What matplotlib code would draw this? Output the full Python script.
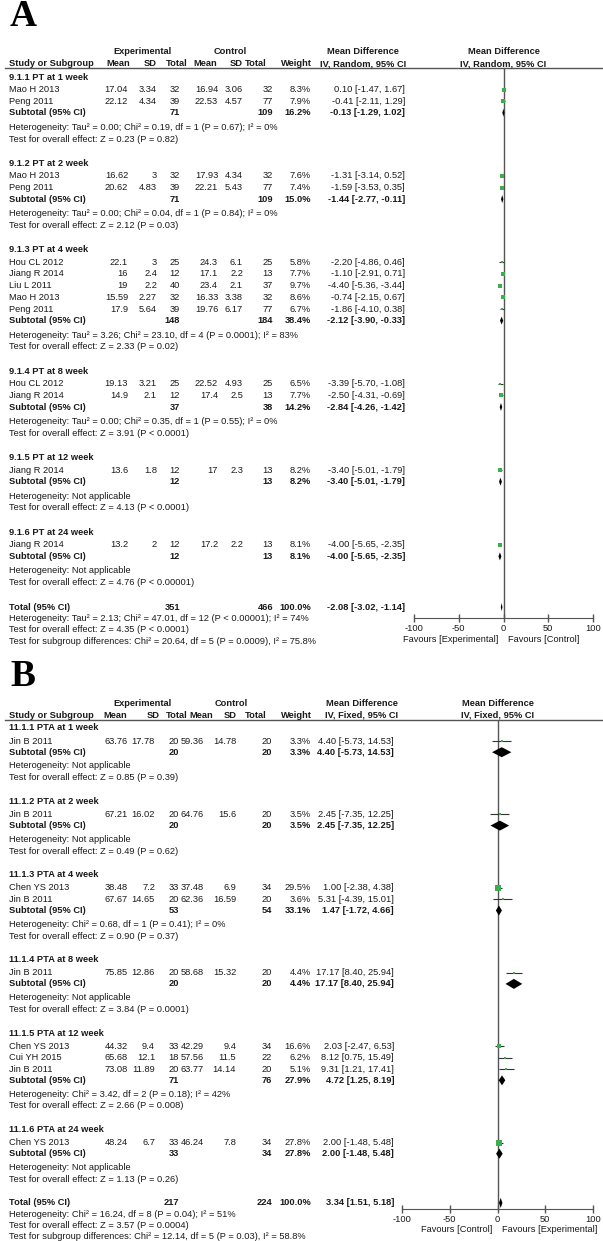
import matplotlib
matplotlib.use('Agg')
import matplotlib.pyplot as plt

# ---------------- panel A data (PT, random effects) ----------------
a_groups = ['9.1.1 PT at 1 week', '9.1.2 PT at 2 week', '9.1.3 PT at 4 week',
            '9.1.4 PT at 8 week', '9.1.5 PT at 12 week', '9.1.6 PT at 24 week']
a_grp = [0, 0, 1, 1, 2, 2, 2, 2, 2, 3, 3, 4, 5]
a_study = ['Mao H 2013', 'Peng 2011', 'Mao H 2013', 'Peng 2011',
           'Hou CL 2012', 'Jiang R 2014', 'Liu L 2011', 'Mao H 2013', 'Peng 2011',
           'Hou CL 2012', 'Jiang R 2014', 'Jiang R 2014', 'Jiang R 2014']
a_mean_e = [17.04, 22.12, 16.62, 20.62, 22.1, 16, 19, 15.59, 17.9, 19.13, 14.9, 13.6, 13.2]
a_sd_e = [3.34, 4.34, 3, 4.83, 3, 2.4, 2.2, 2.27, 5.64, 3.21, 2.1, 1.8, 2]
a_n_e = [32, 39, 32, 39, 25, 12, 40, 32, 39, 25, 12, 12, 12]
a_mean_c = [16.94, 22.53, 17.93, 22.21, 24.3, 17.1, 23.4, 16.33, 19.76, 22.52, 17.4, 17, 17.2]
a_sd_c = [3.06, 4.57, 4.34, 5.43, 6.1, 2.2, 2.1, 3.38, 6.17, 4.93, 2.5, 2.3, 2.2]
a_n_c = [32, 77, 32, 77, 25, 13, 37, 32, 77, 25, 13, 13, 13]
a_weight = [8.3, 7.9, 7.6, 7.4, 5.8, 7.7, 9.7, 8.6, 6.7, 6.5, 7.7, 8.2, 8.1]
a_md = [0.10, -0.41, -1.31, -1.59, -2.20, -1.10, -4.40, -0.74, -1.86, -3.39, -2.50, -3.40, -4.00]
a_lo = [-1.47, -2.11, -3.14, -3.53, -4.86, -2.91, -5.36, -2.15, -4.10, -5.70, -4.31, -5.01, -5.65]
a_hi = [1.67, 1.29, 0.52, 0.35, 0.46, 0.71, -3.44, 0.67, 0.38, -1.08, -0.69, -1.79, -2.35]
a_sub_n_e = [71, 71, 148, 37, 12, 12]
a_sub_n_c = [109, 109, 184, 38, 13, 13]
a_sub_w = [16.2, 15.0, 38.4, 14.2, 8.2, 8.1]
a_sub_md = [-0.13, -1.44, -2.12, -2.84, -3.40, -4.00]
a_sub_lo = [-1.29, -2.77, -3.90, -4.26, -5.01, -5.65]
a_sub_hi = [1.02, -0.11, -0.33, -1.42, -1.79, -2.35]
a_het = ['Heterogeneity: Tau² = 0.00; Chi² = 0.19, df = 1 (P = 0.67); I² = 0%',
         'Heterogeneity: Tau² = 0.00; Chi² = 0.04, df = 1 (P = 0.84); I² = 0%',
         'Heterogeneity: Tau² = 3.26; Chi² = 23.10, df = 4 (P = 0.0001); I² = 83%',
         'Heterogeneity: Tau² = 0.00; Chi² = 0.35, df = 1 (P = 0.55); I² = 0%',
         'Heterogeneity: Not applicable',
         'Heterogeneity: Not applicable']
a_test = ['Test for overall effect: Z = 0.23 (P = 0.82)',
          'Test for overall effect: Z = 2.12 (P = 0.03)',
          'Test for overall effect: Z = 2.33 (P = 0.02)',
          'Test for overall effect: Z = 3.91 (P < 0.0001)',
          'Test for overall effect: Z = 4.13 (P < 0.0001)',
          'Test for overall effect: Z = 4.76 (P < 0.00001)']
a_total = [351, 466, 100.0, -2.08, -3.02, -1.14]
a_notes = ['Heterogeneity: Tau² = 2.13; Chi² = 47.01, df = 12 (P < 0.00001); I² = 74%',
           'Test for overall effect: Z = 4.35 (P < 0.0001)',
           'Test for subgroup differences: Chi² = 20.64, df = 5 (P = 0.0009), I² = 75.8%']
a_favours = ['Favours [Experimental]', 'Favours [Control]']

# ---------------- panel B data (PTA, fixed effect) ----------------
b_groups = ['11.1.1 PTA at 1 week', '11.1.2 PTA at 2 week', '11.1.3 PTA at 4 week',
            '11.1.4 PTA at 8 week', '11.1.5 PTA at 12 week', '11.1.6 PTA at 24 week']
b_grp = [0, 1, 2, 2, 3, 4, 4, 4, 5]
b_study = ['Jin B 2011', 'Jin B 2011', 'Chen YS 2013', 'Jin B 2011', 'Jin B 2011',
           'Chen YS 2013', 'Cui YH 2015', 'Jin B 2011', 'Chen YS 2013']
b_mean_e = [63.76, 67.21, 38.48, 67.67, 75.85, 44.32, 65.68, 73.08, 48.24]
b_sd_e = [17.78, 16.02, 7.2, 14.65, 12.86, 9.4, 12.1, 11.89, 6.7]
b_n_e = [20, 20, 33, 20, 20, 33, 18, 20, 33]
b_mean_c = [59.36, 64.76, 37.48, 62.36, 58.68, 42.29, 57.56, 63.77, 46.24]
b_sd_c = [14.78, 15.6, 6.9, 16.59, 15.32, 9.4, 11.5, 14.14, 7.8]
b_n_c = [20, 20, 34, 20, 20, 34, 22, 20, 34]
b_weight = [3.3, 3.5, 29.5, 3.6, 4.4, 16.6, 6.2, 5.1, 27.8]
b_md = [4.40, 2.45, 1.00, 5.31, 17.17, 2.03, 8.12, 9.31, 2.00]
b_lo = [-5.73, -7.35, -2.38, -4.39, 8.40, -2.47, 0.75, 1.21, -1.48]
b_hi = [14.53, 12.25, 4.38, 15.01, 25.94, 6.53, 15.49, 17.41, 5.48]
b_sub_n_e = [20, 20, 53, 20, 71, 33]
b_sub_n_c = [20, 20, 54, 20, 76, 34]
b_sub_w = [3.3, 3.5, 33.1, 4.4, 27.9, 27.8]
b_sub_md = [4.40, 2.45, 1.47, 17.17, 4.72, 2.00]
b_sub_lo = [-5.73, -7.35, -1.72, 8.40, 1.25, -1.48]
b_sub_hi = [14.53, 12.25, 4.66, 25.94, 8.19, 5.48]
b_het = ['Heterogeneity: Not applicable',
         'Heterogeneity: Not applicable',
         'Heterogeneity: Chi² = 0.68, df = 1 (P = 0.41); I² = 0%',
         'Heterogeneity: Not applicable',
         'Heterogeneity: Chi² = 3.42, df = 2 (P = 0.18); I² = 42%',
         'Heterogeneity: Not applicable']
b_test = ['Test for overall effect: Z = 0.85 (P = 0.39)',
          'Test for overall effect: Z = 0.49 (P = 0.62)',
          'Test for overall effect: Z = 0.90 (P = 0.37)',
          'Test for overall effect: Z = 3.84 (P = 0.0001)',
          'Test for overall effect: Z = 2.66 (P = 0.008)',
          'Test for overall effect: Z = 1.13 (P = 0.26)']
b_total = [217, 224, 100.0, 3.34, 1.51, 5.18]
b_notes = ['Heterogeneity: Chi² = 16.24, df = 8 (P = 0.04); I² = 51%',
           'Test for overall effect: Z = 3.57 (P = 0.0004)',
           'Test for subgroup differences: Chi² = 12.14, df = 5 (P = 0.03), I² = 58.8%']
b_favours = ['Favours [Control]', 'Favours [Experimental]']

ticks = [-100, -50, 0, 50, 100]

plt.rcParams['font.family'] = ['Liberation Sans', 'DejaVu Sans']
W, H = 603, 1241
FS = 6.7
INK = '#1a1a1a'
GRAY = '#555555'
GREEN = '#3cae50'

fig = plt.figure(figsize=(W / 100, H / 100), dpi=100)
ax = fig.add_axes([0, 0, 1, 1])
ax.set_xlim(0, W)
ax.set_ylim(H, 0)
ax.axis('off')


def t(x, y, s, ha='left', bold=False):
    ax.text(x, y, s, ha=ha, va='center', fontsize=FS, color=INK,
            fontweight='bold' if bold else 'normal')


def ci(md, lo, hi):
    return f'{md:.2f} [{lo:.2f}, {hi:.2f}]'


def diamond(fx, y, md, lo, hi, h):
    fx.fill([lo, md, hi, md], [y, y - h, y, y + h], color='black', lw=0, zorder=4)


def panel(letter, L, groups, grp, study, me, se, ne, mc, sc, nc, wt, md, lo, hi,
          sne, snc, sw, smd, slo, shi, het, test, total, notes, favours, method):
    c = L['cols']
    ax.text(10, L['letter_y'], letter, fontsize=27, fontweight='bold',
            family='Liberation Serif', va='center', ha='left', color='black')
    y1, y2 = L['head_y']
    t(L['exp_c'], y1, 'Experimental', 'center', True)
    t(L['ctl_c'], y1, 'Control', 'center', True)
    t(L['ci_c'], y1, 'Mean Difference', 'center', True)
    t(L['zero_px'], y1, 'Mean Difference', 'center', True)
    t(9, y2, 'Study or Subgroup', bold=True)
    for key, lab in [('me', 'Mean'), ('se', 'SD'), ('ne', 'Total'), ('mc', 'Mean'),
                     ('sc', 'SD'), ('nc', 'Total'), ('w', 'Weight')]:
        t(L['head_cols'][key], y2, lab, 'right', True)
    t(L['ci_c'], y2, method, 'center', True)
    t(L['zero_px'], y2, method, 'center', True)
    ax.plot([5, W], [L['line_y'], L['line_y']], color=GRAY, lw=1)

    x0, x1 = L['forest']
    top, bot = L['line_y'], L['axis_y']
    fx = fig.add_axes([x0 / W, 1 - bot / H, (x1 - x0) / W, (bot - top) / H])
    fx.patch.set_visible(False)
    fx.set_xlim(-100, 100)
    fx.set_ylim(bot, top)
    fx.axvline(0, color=GRAY, lw=1, zorder=1)
    for s in ['top', 'left', 'right']:
        fx.spines[s].set_visible(False)
    fx.spines['bottom'].set_color(GRAY)
    fx.set_yticks([])
    fx.set_xticks(ticks)
    fx.set_xticklabels([str(v) for v in ticks])
    fx.tick_params(axis='x', direction='inout', length=6, width=1, color=GRAY,
                   labelsize=FS, labelcolor=INK, pad=1)

    a, b, cc, d, e, f = L['gaps']
    dh = L['dia_h']
    y = L['start']
    for g, title in enumerate(groups):
        t(9, y, title, bold=True)
        y += a
        idx = [i for i, k in enumerate(grp) if k == g]
        for j, i in enumerate(idx):
            t(9, y, study[i])
            t(c['me'], y, f'{me[i]:g}', 'right')
            t(c['se'], y, f'{se[i]:g}', 'right')
            t(c['ne'], y, str(ne[i]), 'right')
            t(c['mc'], y, f'{mc[i]:g}', 'right')
            t(c['sc'], y, f'{sc[i]:g}', 'right')
            t(c['nc'], y, str(nc[i]), 'right')
            t(c['w'], y, f'{wt[i]:.1f}%', 'right')
            t(c['ci'], y, ci(md[i], lo[i], hi[i]), 'right')
            fx.hlines(y, lo[i], hi[i], color='#333333', lw=0.8, zorder=2)
            side = L['sq'] * wt[i] ** 0.5
            fx.scatter([md[i]], [y], marker='s', s=(side * 0.72) ** 2,
                       color=GREEN, lw=0, zorder=3)
            y += b if j < len(idx) - 1 else cc
        t(9, y, 'Subtotal (95% CI)', bold=True)
        t(c['ne'], y, str(sne[g]), 'right', True)
        t(c['nc'], y, str(snc[g]), 'right', True)
        t(c['w'], y, f'{sw[g]:.1f}%', 'right', True)
        t(c['ci'], y, ci(smd[g], slo[g], shi[g]), 'right', True)
        diamond(fx, y, smd[g], slo[g], shi[g], dh)
        y += d
        t(9, y, het[g])
        y += e
        t(9, y, test[g])
        y += f
    t(9, y, 'Total (95% CI)', bold=True)
    t(c['ne'], y, str(total[0]), 'right', True)
    t(c['nc'], y, str(total[1]), 'right', True)
    t(c['w'], y, f'{total[2]:.1f}%', 'right', True)
    t(c['ci'], y, ci(total[3], total[4], total[5]), 'right', True)
    diamond(fx, y, total[3], total[4], total[5], dh)
    y += 11.8
    for n in notes:
        t(9, y, n)
        y += 11.1
    t(L['zero_px'] - 5, L['fav_y'], favours[0], 'right')
    t(L['zero_px'] + 5, L['fav_y'], favours[1], 'left')


layout_a = dict(letter_y=17, head_y=(52, 64), line_y=68, start=77,
                cols=dict(me=128, se=157, ne=180, mc=218, sc=243, nc=273, w=311, ci=405),
                head_cols=dict(me=130, se=157, ne=188, mc=217, sc=243, nc=267, w=312),
                exp_c=143, ctl_c=230, ci_c=363, zero_px=503.5,
                forest=(414, 593), axis_y=618, fav_y=640, sq=1.15, dia_h=4,
                gaps=(12.5, 11.7, 11.5, 14.5, 11.8, 24.4))
layout_b = dict(letter_y=676, head_y=(703, 715), line_y=720, start=728,
                cols=dict(me=128, se=155, ne=179, mc=204, sc=236, nc=272, w=311, ci=394),
                head_cols=dict(me=127, se=160, ne=188, mc=213, sc=237, nc=267, w=312),
                exp_c=142, ctl_c=231, ci_c=362, zero_px=497.5,
                forest=(402, 593), axis_y=1209, fav_y=1230, sq=1.2, dia_h=5,
                gaps=(13, 11.5, 11.2, 13.8, 11.7, 23.7))

panel('A', layout_a, a_groups, a_grp, a_study, a_mean_e, a_sd_e, a_n_e, a_mean_c,
      a_sd_c, a_n_c, a_weight, a_md, a_lo, a_hi, a_sub_n_e, a_sub_n_c, a_sub_w,
      a_sub_md, a_sub_lo, a_sub_hi, a_het, a_test, a_total, a_notes, a_favours,
      'IV, Random, 95% CI')
panel('B', layout_b, b_groups, b_grp, b_study, b_mean_e, b_sd_e, b_n_e, b_mean_c,
      b_sd_c, b_n_c, b_weight, b_md, b_lo, b_hi, b_sub_n_e, b_sub_n_c, b_sub_w,
      b_sub_md, b_sub_lo, b_sub_hi, b_het, b_test, b_total, b_notes, b_favours,
      'IV, Fixed, 95% CI')

fig.savefig('out.png', dpi=100, facecolor='white')
